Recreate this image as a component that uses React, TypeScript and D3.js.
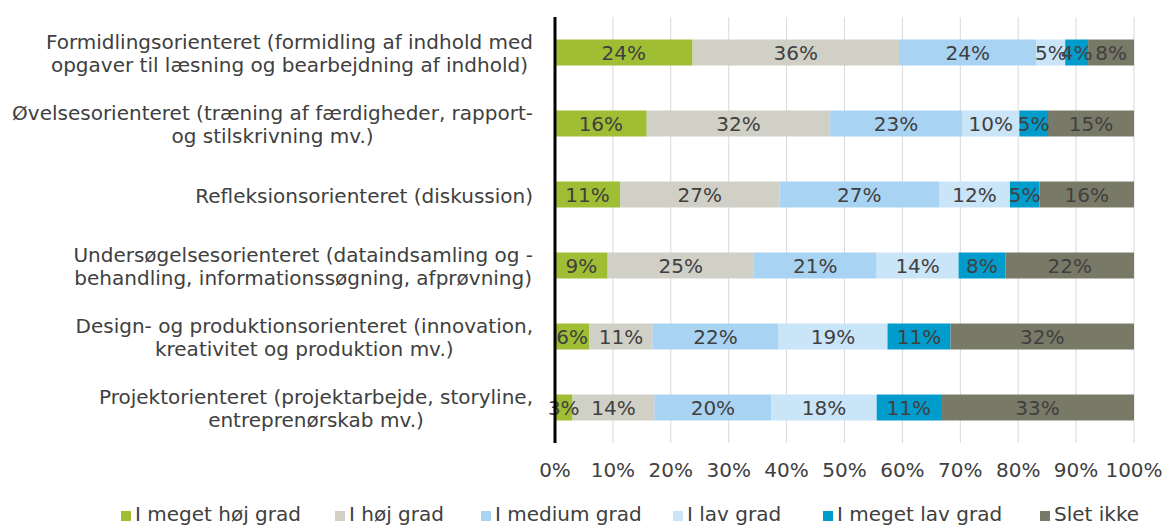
import { useMemo } from "react";
import * as d3 from "d3";

const WIDTH = 1166;
const HEIGHT = 525;
const PLOT = { left: 555, right: 1134, top: 17, bottom: 443 };
const FONT = "DejaVu Sans, Verdana, sans-serif";
const FONT_SIZE = 20;
const TEXT_COLOR = "#404040";

// categories (two-line labels as shown in the chart)
const categories = [
  ["Formidlingsorienteret (formidling af indhold med", "opgaver til læsning og bearbejdning af indhold)"],
  ["Øvelsesorienteret (træning af færdigheder, rapport-", "og stilskrivning mv.)"],
  ["Refleksionsorienteret (diskussion)"],
  ["Undersøgelsesorienteret (dataindsamling og -", "behandling, informationssøgning, afprøvning)"],
  ["Design- og produktionsorienteret (innovation,", "kreativitet og produktion mv.)"],
  ["Projektorienteret (projektarbejde, storyline,", "entreprenørskab mv.)"],
];

const seriesNames = ["I meget høj grad", "I høj grad", "I medium grad", "I lav grad", "I meget lav grad", "Slet ikke"];
const seriesColors = ["#9fbe33", "#d0d0c7", "#a9d3f3", "#cae4f8", "#009ccc", "#797967"];

// percentages per category, in series order
const megetHoej = [24, 16, 11, 9, 6, 3];
const hoej = [36, 32, 27, 25, 11, 14];
const medium = [24, 23, 27, 21, 22, 20];
const lav = [5, 10, 12, 14, 19, 18];
const megetLav = [4, 5, 5, 8, 11, 11];
const sletIkke = [8, 15, 16, 22, 32, 33];

const xTicks = [0, 0.1, 0.2, 0.3, 0.4, 0.5, 0.6, 0.7, 0.8, 0.9, 1];

// legend square x positions (layout)
const LEGEND_X = [121, 335, 481, 673, 823, 1040];

let measureCtx: CanvasRenderingContext2D | null = null;
const measure = (s: string) => {
  if (!measureCtx) measureCtx = document.createElement("canvas").getContext("2d");
  measureCtx!.font = `${FONT_SIZE}px ${FONT}`;
  return measureCtx!.measureText(s).width;
};

export default function App() {
  const rows = useMemo(
    () =>
      categories.map((c, i) => ({
        idx: i,
        v0: megetHoej[i],
        v1: hoej[i],
        v2: medium[i],
        v3: lav[i],
        v4: megetLav[i],
        v5: sletIkke[i],
      })),
    []
  );
  const keys = ["v0", "v1", "v2", "v3", "v4", "v5"];

  const stacked = d3.stack<any>().keys(keys).offset(d3.stackOffsetExpand)(rows);

  const x = d3.scaleLinear().domain([0, 1]).range([PLOT.left, PLOT.right]);
  const y = d3
    .scaleBand<number>()
    .domain(rows.map((r) => r.idx))
    .range([PLOT.top, PLOT.bottom])
    .paddingInner(0.634)
    .paddingOuter(0.317);

  const bw = y.bandwidth();

  return (
    <svg width={WIDTH} height={HEIGHT} style={{ position: "absolute", left: 0, top: 0, background: "white" }} fontFamily={FONT}>
      {/* gridlines */}
      {xTicks.slice(1).map((t) => (
        <line key={t} x1={x(t)} x2={x(t)} y1={PLOT.top} y2={PLOT.bottom} stroke="#d9d9d9" strokeWidth={1} />
      ))}

      {/* bars */}
      {stacked.map((s, si) =>
        s.map((d, i) => (
          <rect
            key={`${si}-${i}`}
            x={x(d[0])}
            y={y(i)!}
            width={x(d[1]) - x(d[0])}
            height={bw}
            fill={seriesColors[si]}
          />
        ))
      )}

      {/* segment labels */}
      {stacked.map((s, si) =>
        s.map((d, i) => (
          <text
            key={`l-${si}-${i}`}
            x={(x(d[0]) + x(d[1])) / 2}
            y={y(i)! + bw / 2}
            dy="0.36em"
            textAnchor="middle"
            fontSize={FONT_SIZE}
            fill={TEXT_COLOR}
          >
            {`${(d.data as any)[keys[si]]}%`}
          </text>
        ))
      )}

      {/* vertical axis */}
      <line x1={PLOT.left} x2={PLOT.left} y1={PLOT.top} y2={PLOT.bottom} stroke="black" strokeWidth={3} />

      {/* category labels */}
      {categories.map((lines, i) => {
        const maxW = Math.max(...lines.map(measure));
        const cx = 533 - maxW / 2;
        const cy = y(i)! + bw / 2;
        const lh = 23.5;
        return (
          <text key={`c-${i}`} textAnchor="middle" fontSize={FONT_SIZE} fill={TEXT_COLOR}>
            {lines.map((ln, li) => (
              <tspan key={li} x={cx} y={cy + (li - (lines.length - 1) / 2) * lh + 1} dy="0.36em">
                {ln}
              </tspan>
            ))}
          </text>
        );
      })}

      {/* x tick labels */}
      {xTicks.map((t) => (
        <text key={`t-${t}`} x={x(t)} y={470} dy="0.36em" textAnchor="middle" fontSize={FONT_SIZE} fill={TEXT_COLOR}>
          {d3.format(".0%")(t)}
        </text>
      ))}

      {/* legend */}
      {seriesNames.map((n, i) => (
        <g key={`lg-${i}`}>
          <rect x={LEGEND_X[i]} y={511} width={10} height={10} fill={seriesColors[i]} />
          <text x={LEGEND_X[i] + 14} y={514} dy="0.36em" fontSize={FONT_SIZE} fill={TEXT_COLOR}>
            {n}
          </text>
        </g>
      ))}
    </svg>
  );
}
